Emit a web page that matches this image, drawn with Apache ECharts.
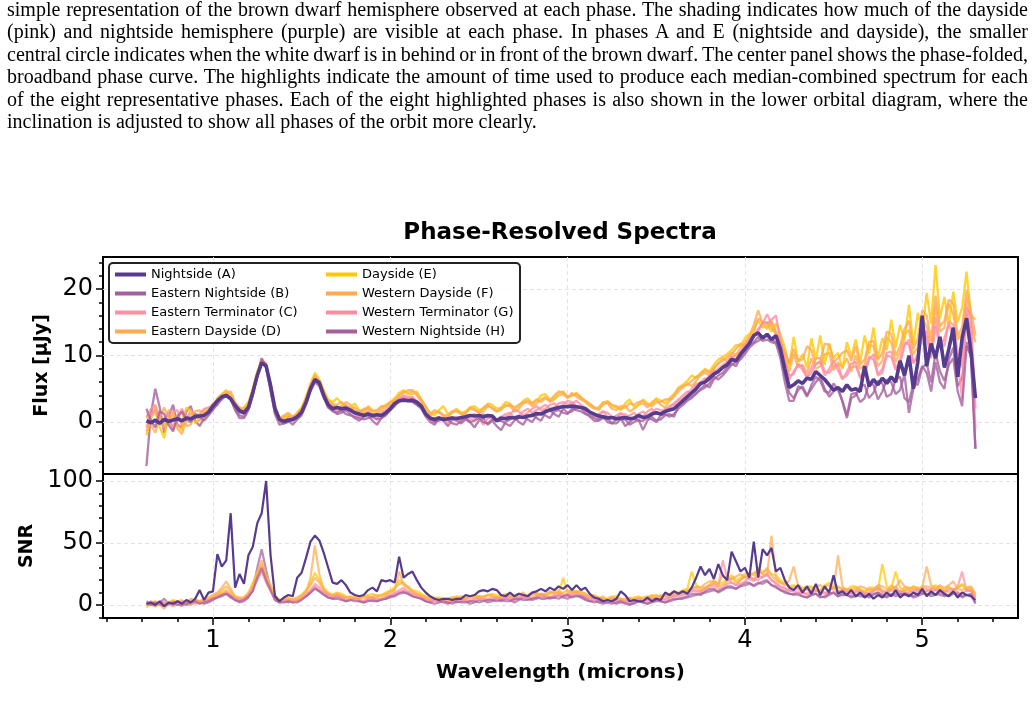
<!DOCTYPE html>
<html>
<head>
<meta charset="utf-8">
<script src="https://cdn.jsdelivr.net/npm/echarts@6/dist/echarts.min.js"></script>
<style>
  html, body { margin: 0; padding: 0; background: #fff; }
  #chart { position: absolute; left: 0; top: 0; width: 1034px; height: 714px; }
  #caption { position: absolute; left: 7px; top: -2.5px; width: 1021px; font-family: "Liberation Serif", serif; font-size: 20px; line-height: 22.6px; color: #000; z-index: 2; }
  #caption div { text-align: justify; text-align-last: justify; white-space: nowrap; word-spacing: -1.5px; }
  #caption div.last { text-align: left; text-align-last: left; word-spacing: 0; }
</style>
</head>
<body>
<div id="chart"></div>
<div id="caption">
  <div>simple representation of the brown dwarf hemisphere observed at each phase. The shading indicates how much of the dayside</div>
  <div>(pink) and nightside hemisphere (purple) are visible at each phase. In phases A and E (nightside and dayside), the smaller</div>
  <div>central circle indicates when the white dwarf is in behind or in front of the brown dwarf. The center panel shows the phase-folded,</div>
  <div>broadband phase curve. The highlights indicate the amount of time used to produce each median-combined spectrum for each</div>
  <div>of the eight representative phases. Each of the eight highlighted phases is also shown in the lower orbital diagram, where the</div>
  <div class="last">inclination is adjusted to show all phases of the orbit more clearly.</div>
</div>
<script>
// wavelength grid (microns)
const wave = [
  0.625,0.65,0.675,0.7,0.725,0.75,0.775,0.8,0.825,0.85,0.875,0.9,0.925,0.95,0.975,1,1.025,1.05,1.075,1.1,
  1.125,1.15,1.175,1.2,1.225,1.25,1.275,1.3,1.325,1.35,1.375,1.4,1.425,1.45,1.475,1.5,1.525,1.55,1.575,1.6,
  1.625,1.65,1.675,1.7,1.725,1.75,1.775,1.8,1.825,1.85,1.875,1.9,1.925,1.95,1.975,2,2.025,2.05,2.075,2.1,
  2.125,2.15,2.175,2.2,2.225,2.25,2.275,2.3,2.325,2.35,2.375,2.4,2.425,2.45,2.475,2.5,2.525,2.55,2.575,2.6,
  2.625,2.65,2.675,2.7,2.725,2.75,2.775,2.8,2.825,2.85,2.875,2.9,2.925,2.95,2.975,3,3.025,3.05,3.075,3.1,
  3.125,3.15,3.175,3.2,3.225,3.25,3.275,3.3,3.325,3.35,3.375,3.4,3.425,3.45,3.475,3.5,3.525,3.55,3.575,3.6,
  3.625,3.65,3.675,3.7,3.725,3.75,3.775,3.8,3.825,3.85,3.875,3.9,3.925,3.95,3.975,4,4.025,4.05,4.075,4.1,
  4.125,4.15,4.175,4.2,4.225,4.25,4.275,4.3,4.325,4.35,4.375,4.4,4.425,4.45,4.475,4.5,4.525,4.55,4.575,4.6,
  4.625,4.65,4.675,4.7,4.725,4.75,4.775,4.8,4.825,4.85,4.875,4.9,4.925,4.95,4.975,5,5.025,5.05,5.075,5.1,
  5.125,5.15,5.175,5.2,5.225,5.25,5.275,5.3
];

// flux (µJy)
const fluxA = [
  0.2,-0.1,0.3,-0.2,0.4,0.1,0.3,0.5,0.2,0.6,0.5,0.8,0.9,1.0,1.5,2.4,3.2,3.8,4.0,3.5,
  2.5,1.7,1.4,2.2,4.5,7.0,8.9,8.4,5.5,2.0,0.4,0.1,0.3,0.4,0.8,1.5,3.0,5.0,6.4,5.9,
  4.0,2.6,2.0,2.2,2.0,2.1,1.8,1.4,1.2,1.0,1.2,1.0,1.1,1.0,1.4,2.0,2.8,3.2,3.3,3.2,
  3.3,3.0,2.4,1.2,0.6,0.4,0.6,0.4,0.5,0.6,0.5,0.7,0.8,1.0,0.9,1.0,0.8,1.0,0.9,0.2,
  0.6,0.5,0.7,0.6,0.8,0.7,0.9,1.0,1.3,1.2,1.6,1.8,2.0,2.2,2.3,2.3,2.4,2.3,2.2,2.0,
  1.5,1.2,0.9,0.8,0.6,0.7,0.5,0.6,0.7,0.5,0.6,1.0,0.7,0.8,1.2,1.4,1.2,1.6,1.8,2.0,
  2.6,3.2,3.8,4.4,5.0,5.8,6.0,6.6,7.2,7.6,8.2,8.6,9.4,9.2,10.2,11.0,11.8,13.0,13.4,12.6,
  13.2,12.4,13.0,11.0,8.0,5.2,5.6,6.2,5.8,6.6,6.4,7.6,7.0,6.4,5.6,4.8,5.2,4.6,5.6,4.8,
  5.0,4.6,8.4,5.4,6.4,5.6,6.6,5.8,6.8,6.0,9.2,7.0,10.0,5.0,9.0,16.0,8.4,11.8,9.6,12.8,
  8.2,11.0,14.2,6.8,12.6,15.6,10.6,3.6
];
const fluxB = [
  -6.6,1.2,5.0,2.2,-1.6,0.8,2.6,-0.4,-0.8,1.6,2.4,0.2,-0.6,0.6,1.4,2.0,2.6,3.6,4.2,3.4,
  1.8,0.6,0.6,1.8,4.0,7.2,9.6,8.2,4.6,1.2,-0.4,-0.2,0.2,-0.4,0.4,1.0,2.6,4.6,6.0,5.4,
  3.6,2.2,1.8,1.2,1.4,1.8,1.2,0.6,0.2,0.8,1.0,0.2,-0.4,0.6,1.2,1.8,2.4,3.2,3.6,3.4,
  3.2,2.6,2.0,0.8,0.0,-0.4,0.6,0.2,-0.6,0.4,0.2,-0.2,0.4,0.0,-0.8,0.2,0.6,-0.4,0.2,-0.6,
  -1.2,0.0,0.4,0.8,0.0,-0.4,0.8,1.2,0.6,0.2,1.4,1.8,1.2,0.8,2.0,1.4,1.6,2.2,2.2,1.4,
  0.8,0.2,0.2,0.6,0.6,-0.2,-0.2,0.4,0.4,-0.4,0.0,0.4,-1.2,0.2,0.8,0.2,0.4,1.0,1.2,0.8,
  2.4,2.8,3.4,3.8,4.2,5.0,5.6,5.2,6.4,7.0,7.4,8.2,8.8,8.4,9.8,10.6,11.6,12.0,12.8,12.2,
  12.4,12.0,11.8,9.6,6.0,3.2,3.2,5.4,5.0,3.8,5.6,6.8,6.2,4.6,4.4,5.8,4.8,3.2,1.0,4.2,
  4.4,3.0,3.6,5.8,5.6,3.4,4.6,6.4,6.0,4.2,4.8,7.2,1.4,5.0,6.6,8.4,7.4,4.6,9.0,6.0,
  5.0,9.4,11.2,5.4,6.6,12.0,9.8,-4.0
];
const fluxC = [
  0.8,2.0,2.6,0.4,-1.0,0.2,1.4,1.8,-0.6,0.4,1.8,0.8,0.6,1.2,1.6,2.2,3.0,3.8,4.4,3.8,
  2.4,1.4,1.6,2.4,4.4,7.0,9.0,8.4,5.6,1.8,0.2,0.0,0.8,0.2,0.6,1.4,3.2,5.2,6.6,5.8,
  4.2,2.8,2.4,2.0,2.2,2.6,1.6,1.2,1.0,1.4,1.6,0.8,1.0,1.6,1.8,2.4,3.0,3.6,4.0,3.8,
  3.8,3.2,2.6,1.4,0.6,0.2,0.4,0.8,-0.2,0.4,0.8,0.2,0.6,1.0,1.2,0.6,-0.4,0.6,1.0,0.4,
  0.8,1.2,1.4,0.6,1.0,1.6,2.0,1.4,1.8,2.2,2.6,2.0,2.2,2.8,3.0,2.6,2.8,3.2,2.6,2.2,
  1.6,1.2,1.0,1.6,1.4,0.8,0.6,1.2,1.2,0.6,0.4,1.2,1.6,1.0,1.4,2.0,1.8,1.6,2.4,2.8,
  3.4,4.0,4.6,4.4,5.4,6.0,6.6,6.2,7.4,8.0,8.6,9.0,9.6,10.2,10.6,11.6,12.2,13.0,14.0,14.8,
  16.2,14.8,13.4,11.6,9.4,7.0,7.2,8.8,7.8,6.8,8.2,9.6,9.6,7.6,7.4,8.4,8.6,6.6,7.0,8.2,
  8.4,6.8,7.6,9.8,9.4,7.2,8.0,10.4,10.6,8.2,8.8,11.4,12.4,9.0,9.6,13.2,13.6,10.4,15.8,12.0,
  11.4,15.2,14.6,10.6,8.2,16.4,13.8,-1.0
];
const fluxD = [
  1.0,-0.4,-1.6,0.8,2.2,0.4,-0.8,1.0,1.4,-0.6,-0.4,1.6,1.8,0.6,1.2,2.4,3.6,4.2,4.8,4.0,
  2.6,2.0,1.8,2.8,4.8,7.4,9.2,8.6,5.4,1.8,0.4,0.8,1.0,0.2,0.8,1.8,3.4,5.4,6.8,6.2,
  4.6,3.2,2.8,2.0,2.4,3.0,2.6,1.8,1.4,2.0,2.0,1.2,1.4,2.0,2.2,2.8,3.4,4.0,4.6,4.4,
  4.6,4.0,3.0,1.8,1.0,1.4,1.6,1.0,0.8,1.4,1.8,1.2,1.2,2.2,2.0,1.4,1.6,2.4,2.2,1.6,
  1.8,2.6,2.4,1.6,2.0,2.8,3.0,2.4,2.8,3.4,3.8,3.0,3.4,4.0,4.2,3.6,4.4,3.8,3.4,3.0,
  2.4,2.0,2.2,3.0,2.8,2.0,1.8,2.4,2.4,1.6,2.0,2.6,2.8,2.2,3.0,3.4,2.6,2.2,3.2,3.8,
  4.6,5.2,5.8,5.4,6.2,7.0,7.4,7.0,8.2,8.8,9.2,9.8,10.4,10.0,11.2,12.0,12.8,14.6,16.8,14.8,
  14.0,15.2,13.6,12.2,10.0,7.6,10.2,8.2,8.6,7.4,9.6,8.0,8.4,10.2,10.4,7.8,9.0,8.2,9.6,7.6,
  10.0,8.0,8.6,11.6,11.4,8.4,9.2,12.8,12.0,9.0,10.6,13.2,13.8,10.2,11.2,15.6,14.4,11.6,17.4,13.6,
  14.2,17.8,16.2,12.4,13.4,18.6,14.6,12.0
];
const fluxE = [
  -2.0,0.6,1.5,-0.8,-2.4,1.2,0.8,-0.6,-1.2,2.2,1.6,-0.2,0.4,1.8,2.0,2.6,3.4,4.0,4.6,4.2,
  2.8,1.8,2.2,3.0,5.0,7.6,9.3,8.8,5.2,2.0,0.8,0.4,1.2,0.6,1.5,2.2,3.8,5.8,7.4,6.4,
  4.8,3.4,3.0,3.6,2.8,2.4,2.2,2.8,1.8,1.4,2.4,1.8,1.6,2.2,2.6,3.0,3.6,4.4,4.8,4.2,
  4.2,4.6,3.4,2.2,1.4,1.0,1.8,2.4,1.2,1.6,2.0,1.4,1.6,2.2,2.4,1.8,2.0,2.8,2.6,2.0,
  2.2,3.0,2.8,2.0,2.4,3.2,3.6,2.8,3.2,4.0,4.2,3.4,3.6,4.4,4.6,3.8,4.0,4.4,3.8,3.2,
  2.6,2.2,2.0,2.8,3.2,2.4,2.2,1.8,2.8,3.4,2.2,2.6,3.4,2.8,2.6,3.6,3.2,2.8,3.6,4.2,
  5.2,5.6,6.2,7.0,6.6,7.4,8.0,7.6,8.6,9.4,9.8,10.2,10.8,11.6,11.4,12.6,13.2,14.0,15.2,14.2,
  14.6,13.6,14.8,13.2,11.2,8.4,12.8,9.0,10.2,8.2,12.6,9.4,13.0,8.6,11.8,9.6,10.4,8.0,12.0,9.8,
  12.4,9.0,13.0,10.2,14.2,9.6,12.6,10.8,15.4,11.2,14.6,12.2,17.6,11.6,16.4,13.4,19.4,14.8,23.6,15.6,
  18.8,14.6,19.6,15.0,17.2,22.6,16.0,15.4
];
const fluxF = [
  -1.4,0.8,2.4,0.6,-0.6,1.8,1.6,-1.0,-1.8,0.4,1.2,1.0,0.2,1.4,1.8,2.8,3.2,3.8,4.4,4.6,
  3.0,2.2,2.0,2.6,4.6,7.2,9.0,8.8,5.8,2.4,0.6,1.0,1.4,0.8,1.2,2.0,3.6,5.6,7.0,6.0,
  4.2,3.0,2.6,2.6,3.0,2.4,2.0,2.2,1.6,1.8,2.2,1.6,1.8,2.4,2.4,3.0,3.2,4.0,4.4,4.8,
  4.8,4.2,3.4,2.4,1.2,1.8,1.4,1.0,1.0,1.6,1.6,1.2,1.4,2.0,1.8,1.4,2.2,2.6,2.0,1.6,
  2.0,2.4,2.6,2.2,2.6,3.0,3.2,2.8,3.4,3.0,3.6,3.2,4.0,4.6,4.4,3.8,4.0,4.2,3.6,3.2,
  2.8,2.2,1.8,2.6,3.0,2.6,2.4,2.0,2.2,2.8,2.6,3.0,3.2,2.6,2.4,3.0,3.0,3.4,3.4,4.0,
  5.0,5.4,5.6,6.2,6.8,7.2,7.8,7.4,8.0,8.8,9.6,9.2,10.2,11.0,11.8,11.4,12.4,13.6,15.6,15.0,
  15.0,14.2,13.2,12.0,10.6,8.8,11.0,9.2,9.4,11.4,10.8,8.6,9.2,11.8,11.6,9.0,9.6,10.4,10.8,9.2,
  11.4,8.6,9.4,12.0,12.2,9.4,10.4,13.6,13.2,10.0,11.4,14.0,15.2,11.0,12.6,16.8,16.0,12.4,19.0,14.4,
  15.2,18.4,17.8,13.0,14.2,19.8,16.6,13.0
];
const fluxG = [
  -0.8,1.2,1.8,0.2,0.4,1.4,-1.2,0.6,2.0,0.8,0.2,1.0,1.2,2.0,2.2,2.4,2.8,3.6,4.2,3.6,
  2.2,1.6,1.2,2.0,4.2,6.8,9.2,8.2,5.0,1.6,0.0,0.4,0.4,0.8,1.0,1.2,2.8,4.8,6.2,5.4,
  3.8,2.6,2.2,1.6,1.8,2.4,2.0,1.2,0.8,1.2,1.4,0.8,0.6,1.2,1.6,2.0,2.6,3.4,3.8,3.6,
  3.6,2.8,2.2,1.0,0.2,0.6,0.8,0.2,0.4,0.8,0.2,0.6,1.0,0.4,0.4,1.0,1.2,0.6,0.6,0.2,
  0.2,0.8,1.2,1.8,1.6,1.0,1.4,2.0,2.4,1.8,2.0,2.6,2.8,2.2,2.6,3.2,3.0,2.4,2.2,1.8,
  1.4,0.8,1.2,1.6,0.8,0.6,1.0,1.4,0.6,1.0,1.4,0.6,0.8,1.6,2.0,1.2,1.4,2.0,2.2,2.6,
  3.2,3.6,4.2,5.0,5.8,5.6,6.2,7.0,7.8,7.4,8.2,9.0,9.8,9.4,10.4,11.4,12.6,13.0,13.6,15.0,
  14.8,15.4,16.0,12.4,9.0,6.4,7.6,8.6,8.4,6.6,7.4,8.8,9.0,7.0,8.0,9.2,7.8,6.4,7.6,8.8,
  9.0,6.6,7.0,9.4,10.2,7.0,7.4,10.0,9.8,7.8,9.4,12.0,11.6,8.8,10.2,13.4,12.8,9.6,14.4,11.2,
  12.6,14.8,13.0,9.4,3.4,17.2,15.8,2.0
];
const fluxH = [
  2.0,0.2,-0.8,1.6,1.2,-0.4,-1.4,0.8,1.6,0.4,0.0,1.2,0.8,0.2,1.0,1.8,2.8,3.4,4.0,3.6,
  2.0,1.0,0.8,2.0,4.2,7.0,9.4,8.6,5.0,1.4,0.2,-0.2,0.0,0.4,0.6,1.2,2.8,4.8,6.2,5.6,
  3.8,2.2,1.6,1.4,1.8,1.2,1.0,0.8,0.6,0.4,0.6,0.8,0.4,0.6,1.0,1.8,2.6,3.0,3.4,3.2,
  3.0,2.6,2.2,1.2,0.4,0.0,0.2,0.6,0.4,-0.2,-0.4,0.2,0.6,0.0,0.2,0.6,0.0,-0.2,0.4,0.2,
  0.2,-0.2,-0.6,0.2,0.6,0.8,0.4,0.0,1.0,1.4,1.0,0.6,1.6,1.8,1.4,1.2,2.0,1.8,1.6,1.2,
  1.0,0.6,0.4,0.8,0.0,-0.2,0.4,0.6,-0.6,0.0,0.6,0.2,0.2,0.6,0.4,0.0,1.0,1.2,0.8,1.2,
  2.0,2.6,3.2,3.6,4.4,4.8,5.2,5.8,6.8,6.4,7.0,7.8,8.6,9.0,9.4,10.2,11.2,11.8,12.2,12.6,
  13.0,12.4,12.0,10.4,7.0,4.4,3.6,4.8,5.4,4.0,5.0,6.0,6.8,5.0,3.8,4.6,5.2,3.0,0.6,3.6,
  4.0,5.4,5.6,3.6,4.4,6.2,5.8,3.8,4.2,6.4,6.8,3.6,3.0,5.8,5.6,8.2,8.8,6.0,10.4,7.6,
  6.2,8.6,9.6,4.6,2.4,11.4,10.0,-4.0
];

// signal-to-noise ratio
const snrA = [
  1,2,0,3,-1,2,1,3,1,4,2,5,12,4,10,11,41,31,36,74,
  14,25,17,40,47,66,74,100,40,7,3,6,8,7,22,26,38,51,56,52,
  42,30,18,17,20,16,10,8,7,8,12,14,11,20,19,20,18,39,22,25,
  27,20,14,10,7,5,4,5,5,4,5,5,8,7,8,11,12,11,13,12,
  8,7,10,7,9,8,7,10,11,13,11,14,12,15,13,16,12,16,12,14,
  9,6,5,3,4,3,5,11,8,3,4,3,3,6,3,5,4,10,8,11,
  9,11,9,14,22,31,24,29,21,33,24,20,43,35,27,30,22,51,22,45,
  40,46,27,30,20,14,12,16,10,15,9,17,8,15,10,24,9,11,8,12,
  7,10,6,9,5,8,6,10,7,12,6,9,7,10,8,13,7,11,8,12,
  9,7,11,6,10,8,7,4
];
const snrB = [
  3,1,-1,2,5,1,0,3,2,0,1,4,3,1,2,4,6,7,9,6,
  4,2,3,6,12,30,45,28,13,5,2,3,2,4,3,5,7,10,14,11,
  9,6,5,7,5,3,4,5,3,2,4,3,3,5,5,6,8,10,11,9,
  7,6,5,3,2,4,3,2,1,3,2,3,3,1,2,4,4,2,3,5,
  3,5,4,2,4,6,5,4,5,7,6,5,6,8,6,5,7,8,6,4,
  3,4,2,1,2,3,1,2,2,1,1,3,2,1,3,4,3,2,4,5,
  5,6,7,9,9,8,11,13,13,10,12,15,15,13,16,18,18,15,17,19,
  20,16,15,12,10,9,8,10,7,6,8,9,7,6,8,10,7,9,8,6,
  7,9,8,6,8,10,7,6,9,7,8,10,9,6,7,9,9,7,8,10,
  8,7,9,10,6,8,8,1
];
const snrC = [
  1,3,2,0,0,2,3,1,-1,2,4,1,2,4,3,5,8,9,11,8,
  5,3,4,8,14,22,28,20,12,5,3,4,3,2,4,6,8,12,17,14,
  11,8,7,8,6,4,5,6,4,3,5,6,5,4,7,8,10,12,14,11,
  9,8,7,5,4,3,3,5,3,4,4,6,4,3,5,6,4,5,6,5,
  5,7,6,4,6,7,5,6,7,9,7,6,8,10,8,7,9,11,8,6,
  5,4,4,5,4,2,3,5,4,2,3,4,4,3,5,6,5,4,6,7,
  8,9,10,12,12,11,14,16,17,15,36,22,18,16,20,23,21,19,24,22,
  26,20,18,15,14,11,12,13,10,9,11,12,10,9,12,14,10,12,11,9,
  11,12,10,9,12,14,11,10,13,15,10,12,12,10,11,14,13,11,12,14,
  11,14,12,15,27,11,12,6
];
const snrD = [
  2,0,-1,1,3,2,1,3,4,1,0,2,3,5,6,8,10,14,19,13,
  6,5,5,8,16,26,36,24,14,6,3,4,5,3,4,6,10,22,48,25,
  12,9,7,9,8,6,6,4,5,7,7,5,6,8,9,11,12,27,16,14,
  10,9,8,6,4,5,5,3,3,5,6,4,5,7,7,5,5,8,8,6,
  6,8,7,5,8,10,6,8,9,7,7,9,10,12,8,9,11,10,9,7,
  6,5,5,7,4,5,6,4,3,5,5,6,4,5,7,8,6,7,8,9,
  9,11,12,14,14,12,13,16,18,15,16,19,22,18,20,23,24,20,28,25,
  24,56,22,18,16,20,31,15,12,14,14,12,11,15,16,12,40,15,11,13,
  14,11,10,13,13,15,12,11,16,13,11,14,13,15,12,14,31,16,14,12,
  12,10,11,14,16,12,13,7
];
const snrE = [
  -2,1,3,2,0,2,4,3,1,2,3,5,2,4,5,7,8,10,12,9,
  7,5,6,10,18,26,30,22,16,8,4,5,6,4,5,8,12,18,26,20,
  14,10,8,10,9,7,6,7,6,7,8,9,7,8,10,12,14,20,17,15,
  12,11,9,7,5,6,6,5,4,6,7,6,5,7,8,7,6,8,9,8,
  7,9,8,7,9,8,7,9,10,8,8,10,11,9,22,10,12,11,10,9,
  7,8,6,5,5,7,7,5,4,5,6,7,5,6,8,7,7,8,9,11,
  10,12,13,27,16,14,14,16,20,17,18,21,24,20,22,25,26,24,30,27,
  28,25,24,20,18,15,16,14,13,15,15,13,12,16,18,14,14,13,12,15,
  15,13,11,14,14,12,33,15,13,27,14,12,12,15,14,12,11,13,16,14,
  13,15,12,14,17,13,14,8
];
const snrF = [
  0,1,2,0,-3,1,3,2,0,2,5,3,1,3,4,6,9,12,15,11,
  7,6,6,9,15,26,33,24,15,7,4,5,4,5,6,8,11,16,22,18,
  12,9,8,9,7,6,7,5,5,6,6,7,8,7,8,10,13,17,18,14,
  11,9,7,6,5,4,4,5,5,6,5,7,6,5,6,7,7,8,7,6,
  7,8,6,7,9,8,8,10,8,9,9,11,9,10,10,12,10,11,11,9,
  6,7,6,5,5,6,5,4,5,6,4,5,6,7,6,5,8,7,7,8,
  9,10,11,13,15,14,17,19,19,17,24,20,21,23,25,22,23,26,27,25,
  30,24,20,18,17,15,14,16,14,12,12,15,16,13,12,14,15,13,13,12,
  12,15,14,12,12,16,15,13,12,14,20,15,14,13,13,15,15,14,13,16,
  14,16,19,13,12,14,15,9
];
const snrG = [
  0,2,1,0,2,1,-1,1,3,2,1,2,2,3,4,5,7,8,10,8,
  5,4,5,8,13,20,27,18,11,4,2,3,4,3,3,5,8,11,15,12,
  10,8,6,7,6,4,4,5,4,3,5,6,4,5,6,7,9,10,12,10,
  8,7,6,4,3,4,4,3,2,3,3,4,4,3,4,5,5,4,5,6,
  5,6,5,4,6,7,6,5,6,8,7,6,7,8,7,9,8,9,8,7,
  5,6,4,3,3,5,4,3,3,4,4,5,3,4,5,6,4,5,6,7,
  7,8,9,11,11,10,13,15,15,13,14,17,18,16,17,19,22,21,20,23,
  24,20,17,14,13,12,11,10,10,8,9,11,11,10,9,10,11,12,10,9,
  10,11,9,10,11,13,10,9,12,11,11,10,10,12,12,11,11,13,12,10,
  10,12,13,10,9,12,11,5
];
const snrH = [
  1,0,2,1,-1,1,2,0,0,1,2,3,1,2,3,5,6,8,9,7,
  4,3,4,7,11,22,30,20,12,4,2,2,3,2,2,4,7,10,13,11,
  8,6,5,5,4,3,4,3,3,2,3,4,3,4,5,7,7,9,10,9,
  7,6,5,3,2,1,2,3,2,1,3,2,2,3,3,2,3,4,4,3,
  4,3,3,5,5,4,4,5,6,5,5,6,6,5,7,8,6,7,7,5,
  3,2,3,2,2,1,2,3,1,0,2,3,2,1,2,3,3,2,3,4,
  5,5,6,7,8,9,10,11,12,11,13,14,14,13,15,16,17,16,18,17,
  19,16,14,12,11,9,9,8,7,6,8,9,6,7,9,10,7,8,8,7,
  8,7,7,8,9,10,8,7,8,9,9,8,8,7,9,10,8,9,9,8,
  7,8,10,8,7,8,9,2
];

const phaseNames = [
  'Nightside (A)', 'Eastern Nightside (B)', 'Eastern Terminator (C)', 'Eastern Dayside (D)',
  'Dayside (E)', 'Western Dayside (F)', 'Western Terminator (G)', 'Western Nightside (H)'
];
const phaseColors = ['#573b8e', '#a3609f', '#ff8fa5', '#ffab50', '#ffc800', '#ffa955', '#ff8da2', '#a65f9e'];

// axis ticks
const waveTicks = [1, 2, 3, 4, 5];
const waveMinor = [0.4,0.6,0.8,1.2,1.4,1.6,1.8,2.2,2.4,2.6,2.8,3.2,3.4,3.6,3.8,4.2,4.4,4.6,4.8,5.2,5.4];
const fluxTicks = [0, 10, 20];
const fluxMinor = [-6,-4,-2,2,4,6,8,12,14,16,18,22,24];
const snrTicks = [0, 50, 100];
const snrMinor = [-10,10,20,30,40,60,70,80,90];

const FONT = 'DejaVu Sans';
const pairs = (xs, ys) => xs.map((x, i) => [x, ys[i]]);

const chart = echarts.init(document.getElementById('chart'));

const gridLine = { show: true, lineStyle: { color: '#e3e3e3', width: 1, type: [4, 3] } };
const tickStyle = { color: '#000', width: 1.5 };

function majorY(grid, min, max, ticks, name, gap) {
  return {
    type: 'value', gridIndex: grid, min: min, max: max, position: 'left',
    axisLine: { show: false, onZero: false },
    axisTick: { show: true, length: 7, lineStyle: tickStyle, customValues: ticks },
    axisLabel: { customValues: ticks, fontSize: 24, color: '#000', fontFamily: FONT, margin: 10 },
    splitLine: gridLine,
    name: name, nameLocation: 'middle', nameRotate: 90, nameGap: gap,
    nameTextStyle: { fontSize: 19, fontWeight: 'bold', color: '#000', fontFamily: FONT }
  };
}
function minorY(grid, min, max, ticks) {
  return {
    type: 'value', gridIndex: grid, min: min, max: max, position: 'left',
    axisLine: { show: false, onZero: false },
    axisTick: { show: true, length: 4, lineStyle: tickStyle, customValues: ticks },
    axisLabel: { show: false },
    splitLine: { show: false }
  };
}

const xMin = 0.38, xMax = 5.54;

const series = [];
const fluxOthers = [fluxB, fluxC, fluxD, fluxE, fluxF, fluxG, fluxH];
const snrOthers = [snrB, snrC, snrD, snrE, snrF, snrG, snrH];
for (let i = 0; i < 7; i++) {
  const base = {
    type: 'line', name: phaseNames[i + 1], color: phaseColors[i + 1],
    showSymbol: false, symbol: 'none', z: 2
  };
  series.push(Object.assign({}, base, {
    xAxisIndex: 0, yAxisIndex: 0, data: pairs(wave, fluxOthers[i]),
    lineStyle: { width: 2.3, opacity: 0.8 }
  }));
  series.push(Object.assign({}, base, {
    xAxisIndex: 1, yAxisIndex: 2, data: pairs(wave, snrOthers[i]),
    lineStyle: { width: 2.2, opacity: 0.72 }
  }));
}
series.push({
  type: 'line', name: phaseNames[0], color: phaseColors[0], showSymbol: false, symbol: 'none', z: 3,
  xAxisIndex: 0, yAxisIndex: 0, data: pairs(wave, fluxA), lineStyle: { width: 3.6 }
});
series.push({
  type: 'line', name: phaseNames[0], color: phaseColors[0], showSymbol: false, symbol: 'none', z: 3,
  xAxisIndex: 1, yAxisIndex: 2, data: pairs(wave, snrA), lineStyle: { width: 2.2 }
});

const legendBase = {
  orient: 'vertical', top: 268, padding: 0, icon: 'rect',
  itemWidth: 31, itemHeight: 4, itemGap: 6,
  textStyle: { fontSize: 13, color: '#000', fontFamily: FONT },
  z: 10, selectedMode: false
};

chart.setOption({
  animation: false,
  backgroundColor: '#fff',
  textStyle: { fontFamily: FONT },
  grid: [
    { left: 103, top: 257, width: 915, height: 217, show: true, borderColor: '#000', borderWidth: 2, outerBoundsMode: 'none' },
    { left: 103, top: 474, width: 915, height: 144, show: true, borderColor: '#000', borderWidth: 2, outerBoundsMode: 'none' }
  ],
  xAxis: [
    {
      type: 'value', gridIndex: 0, min: xMin, max: xMax,
      axisLine: { show: false, onZero: false },
      axisTick: { show: false, customValues: waveTicks },
      axisLabel: { show: false, customValues: waveTicks },
      splitLine: gridLine
    },
    {
      type: 'value', gridIndex: 1, min: xMin, max: xMax, position: 'bottom',
      axisLine: { show: false, onZero: false },
      axisTick: { show: true, length: 7, lineStyle: tickStyle, customValues: waveTicks },
      axisLabel: { customValues: waveTicks, fontSize: 24, color: '#000', fontFamily: FONT, margin: 11 },
      splitLine: gridLine,
      name: 'Wavelength (microns)', nameLocation: 'middle', nameGap: 45,
      nameTextStyle: { fontSize: 20, fontWeight: 'bold', color: '#000', fontFamily: FONT }
    },
    {
      type: 'value', gridIndex: 1, min: xMin, max: xMax, position: 'bottom',
      axisLine: { show: false, onZero: false },
      axisTick: { show: true, length: 4, lineStyle: tickStyle, customValues: waveMinor },
      axisLabel: { show: false },
      splitLine: { show: false }
    }
  ],
  yAxis: [
    majorY(0, -7.8, 24.8, fluxTicks, 'Flux [µJy]', 48),
    minorY(0, -7.8, 24.8, fluxMinor),
    majorY(1, -10.5, 105.6, snrTicks, 'SNR', 65),
    minorY(1, -10.5, 105.6, snrMinor)
  ],
  legend: [
    Object.assign({}, legendBase, { left: 115, data: phaseNames.slice(0, 4) }),
    Object.assign({}, legendBase, { left: 326, data: phaseNames.slice(4) })
  ],
  graphic: [
    {
      type: 'text', x: 560, y: 233, z: 10,
      style: { text: 'Phase-Resolved Spectra', font: 'bold 23px "DejaVu Sans"', fill: '#000', textAlign: 'center', textVerticalAlign: 'middle' }
    },
    {
      type: 'rect', z: 9, shape: { x: 109, y: 263, width: 411, height: 80, r: 4 },
      style: { fill: 'rgba(255,255,255,0.85)', stroke: '#222', lineWidth: 2 }
    }
  ],
  series: series
});
</script>
</body>
</html>
